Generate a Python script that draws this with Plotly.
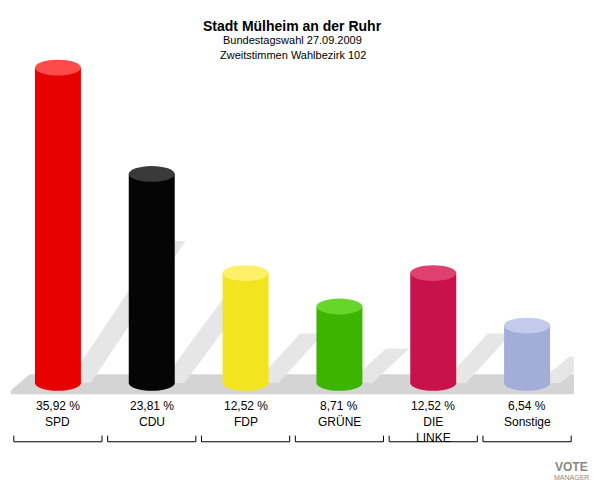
import plotly.graph_objects as go

parties = ["SPD", "CDU", "FDP", "GRÜNE", "DIE<br>LINKE", "Sonstige"]
values = [35.92, 23.81, 12.52, 8.71, 12.52, 6.54]
labels = ["35,92 %", "23,81 %", "12,52 %", "8,71 %", "12,52 %", "6,54 %"]
colors = ["#e80000", "#050505", "#f2e41e", "#3cb400", "#c8124c", "#a2aed8"]
tops = ["#ff4a4a", "#3a3a3a", "#fff06a", "#66d62a", "#e0406e", "#c2cbec"]

xs = list(range(len(parties)))
fig = go.Figure()

shapes = []
# floor
shapes.append(dict(type="path", path="M -0.55,-1.3 L 5.62,-1.3 L 5.8,1.0 L -0.3,1.0 Z",
                   fillcolor="#d4d4d4", line=dict(width=0), layer="below"))
# shadows
for x, v in zip(xs, values):
    h = v * 0.45
    shapes.append(dict(type="path",
                       path=f"M {x+0.1},0 L {x+0.3+h*0.05},{h} L {x+0.55+h*0.05},{h} L {x+0.35},0 Z",
                       fillcolor="#e6e6e6", line=dict(width=0), layer="below"))

fig.add_trace(go.Bar(x=xs, y=values, width=0.49, marker=dict(color=colors, line=dict(width=0)),
                     hoverinfo="skip"))
for x, v, c, t in zip(xs, values, colors, tops):
    shapes.append(dict(type="circle", x0=x - 0.245, x1=x + 0.245, y0=-0.9, y1=0.9,
                       fillcolor=c, line=dict(width=0)))
    shapes.append(dict(type="circle", x0=x - 0.245, x1=x + 0.245, y0=v - 0.9, y1=v + 0.9,
                       fillcolor=t, line=dict(width=0)))
    shapes.append(dict(type="path",
                       path=f"M {x-0.47},-6.7 L {x-0.47},-6.0 M {x-0.47},-6.7 L {x+0.47},-6.7 L {x+0.47},-6.0",
                       line=dict(color="#000", width=1)))

annotations = []
for x, lab, p in zip(xs, labels, parties):
    annotations.append(dict(x=x, y=-2.6, text=lab, showarrow=False, font=dict(size=12)))
    annotations.append(dict(x=x, y=-3.6, text=p, showarrow=False, font=dict(size=12),
                            yanchor="top", yshift=2))

annotations += [
    dict(x=0.5, y=1.0, xref="paper", yref="paper", yshift=22, text="<b>Stadt Mülheim an der Ruhr</b>",
         showarrow=False, font=dict(size=14)),
    dict(x=0.5, y=1.0, xref="paper", yref="paper", yshift=6, text="Bundestagswahl 27.09.2009",
         showarrow=False, font=dict(size=11)),
    dict(x=0.5, y=1.0, xref="paper", yref="paper", yshift=-9, text="Zweitstimmen Wahlbezirk 102",
         showarrow=False, font=dict(size=11)),
    dict(x=1.0, y=0.0, xref="paper", yref="paper", xanchor="center", yanchor="top", xshift=-3, yshift=0,
         text="<b>VOTE</b>", showarrow=False, font=dict(size=12, color="#888")),
    dict(x=1.0, y=0.0, xref="paper", yref="paper", xanchor="center", yanchor="top", xshift=-3, yshift=-14,
         text="MANAGER", showarrow=False, font=dict(size=7, color="#888")),
]

fig.update_layout(
    width=600, height=480, showlegend=False,
    paper_bgcolor="white", plot_bgcolor="white",
    margin=dict(l=3, r=34, t=30, b=30),
    font=dict(family="Liberation Sans, Arial", color="#000"),
    xaxis=dict(range=[-0.5, 5.5], visible=False),
    yaxis=dict(range=[-8.55, 39.3], visible=False),
    shapes=shapes, annotations=annotations,
)
fig.write_html("out.html")
